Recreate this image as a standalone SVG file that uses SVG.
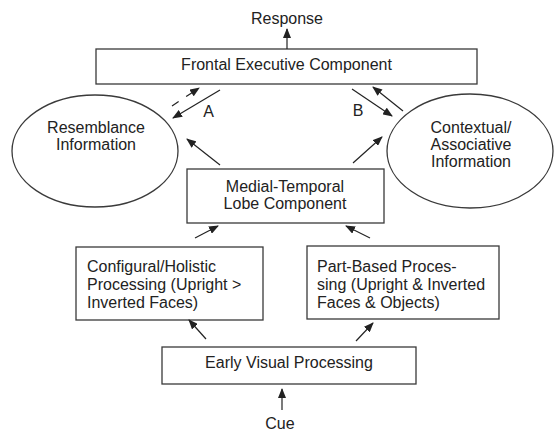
<svg xmlns="http://www.w3.org/2000/svg" width="554" height="431" viewBox="0 0 554 431">
<style>
.box{fill:#fff;stroke:#3a3a3a;stroke-width:1.3}
.t{font-family:"Liberation Sans",Arial,sans-serif;font-size:16px;fill:#222}
.c{text-anchor:middle}
.e{stroke:#222;stroke-width:1.2;fill:none}
</style>
<defs>
<marker id="ah" markerUnits="userSpaceOnUse" markerWidth="10" markerHeight="8" refX="9" refY="4" orient="auto">
<path d="M0,0 L10,4 L0,8 Z" fill="#222"/>
</marker>
</defs>
<rect width="554" height="431" fill="#fff"/>
<g id="response"><text class="t c" x="287" y="24">Response</text></g>
<g id="frontal"><rect class="box" x="96" y="49" width="381" height="35"/><text class="t c" x="286.5" y="70">Frontal Executive Component</text></g>
<g id="resemblance"><ellipse class="box" cx="95" cy="151" rx="83" ry="56"/><text class="t c" x="96" y="133">Resemblance</text><text class="t c" x="96" y="150">Information</text></g>
<g id="contextual"><ellipse class="box" cx="470" cy="151" rx="83" ry="57"/><text class="t c" x="471" y="133">Contextual/</text><text class="t c" x="471" y="150">Associative</text><text class="t c" x="471" y="167">Information</text></g>
<g id="labelA"><text class="t c" x="208.5" y="117">A</text></g>
<g id="labelB"><text class="t c" x="358" y="116">B</text></g>
<g id="medial"><rect class="box" x="187" y="169" width="197" height="54"/><text class="t c" x="285" y="192">Medial-Temporal</text><text class="t c" x="285" y="209">Lobe Component</text></g>
<g id="configural"><rect class="box" x="76" y="247" width="187" height="73"/><text class="t" x="87" y="272">Configural/Holistic</text><text class="t" x="87" y="290">Processing (Upright &gt;</text><text class="t" x="87" y="308">Inverted Faces)</text></g>
<g id="partbased"><rect class="box" x="307" y="246" width="192" height="73"/><text class="t" x="317" y="272">Part-Based Proces-</text><text class="t" x="317" y="290">sing (Upright &amp; Inverted</text><text class="t" x="317" y="308">Faces &amp; Objects)</text></g>
<g id="early"><rect class="box" x="162" y="347" width="254" height="37"/><text class="t c" x="289" y="368">Early Visual Processing</text></g>
<g id="cue"><text class="t c" x="280" y="429">Cue</text></g>
<g id="connectors">
<line class="e" x1="287" y1="49" x2="287" y2="29" marker-end="url(#ah)"/>
<line class="e" x1="172" y1="106" x2="199" y2="88" stroke-dasharray="8 9" marker-end="url(#ah)"/>
<line class="e" x1="220" y1="90" x2="173" y2="118" marker-end="url(#ah)"/>
<line class="e" x1="352" y1="89" x2="392" y2="116" marker-end="url(#ah)"/>
<line class="e" x1="403" y1="111" x2="373" y2="87" marker-end="url(#ah)"/>
<line class="e" x1="220" y1="165" x2="187" y2="139" marker-end="url(#ah)"/>
<line class="e" x1="353" y1="163" x2="382" y2="137" marker-end="url(#ah)"/>
<line class="e" x1="195" y1="238" x2="218" y2="226" marker-end="url(#ah)"/>
<line class="e" x1="370" y1="238" x2="346" y2="226" marker-end="url(#ah)"/>
<line class="e" x1="206" y1="339" x2="189" y2="320" marker-end="url(#ah)"/>
<line class="e" x1="356" y1="341" x2="373" y2="323" marker-end="url(#ah)"/>
<line class="e" x1="282" y1="410" x2="282" y2="389" marker-end="url(#ah)"/>
</g>
</svg>
